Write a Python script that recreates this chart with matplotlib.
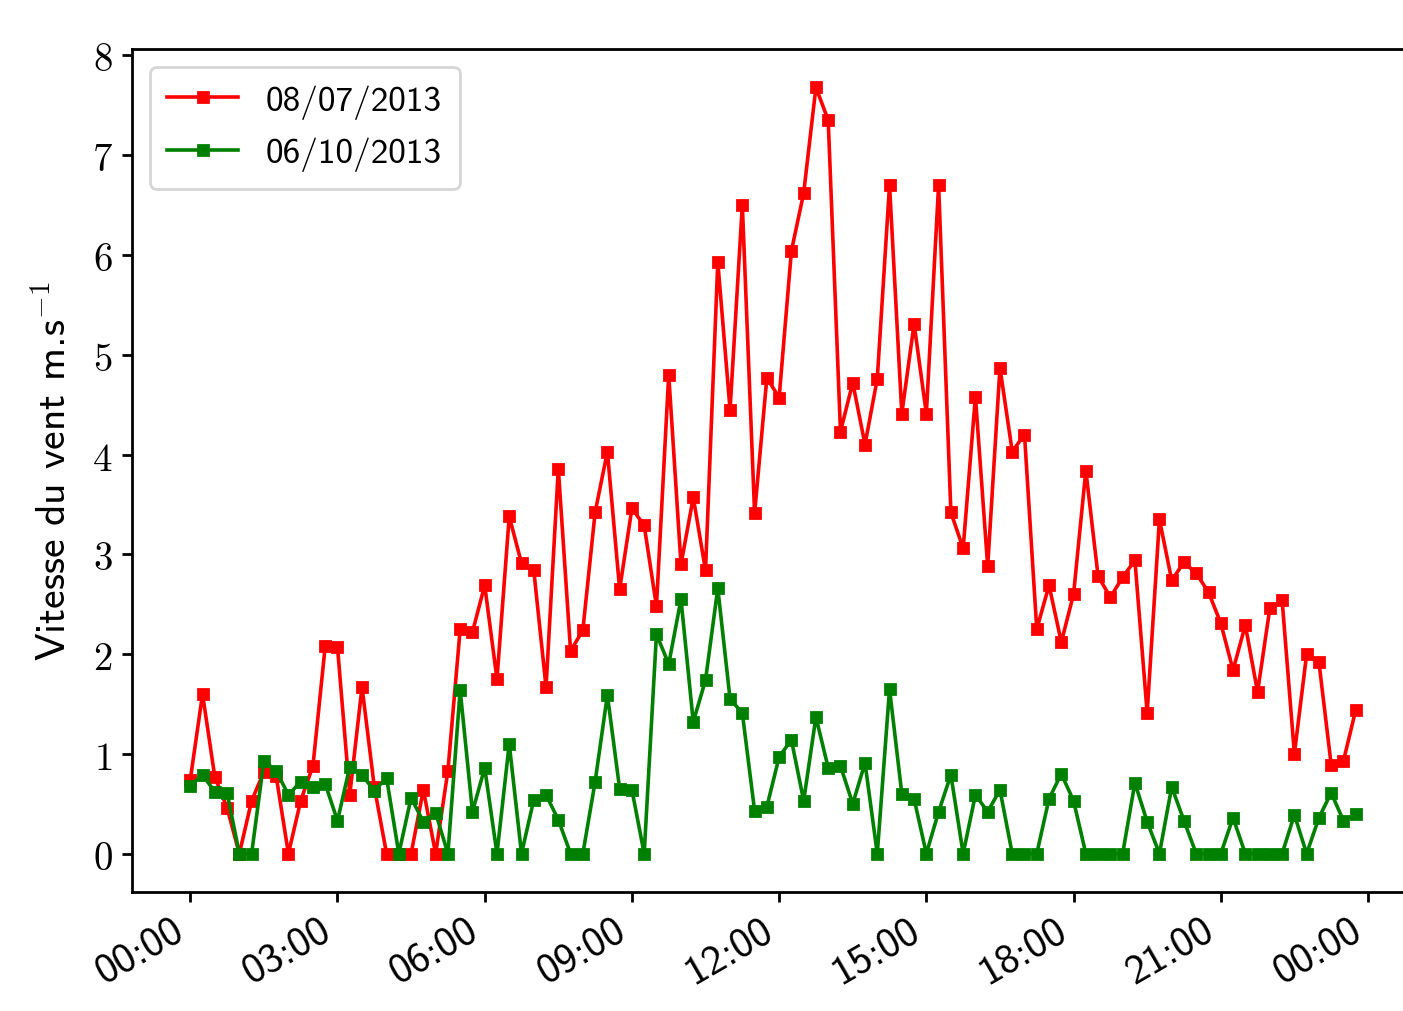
import matplotlib
matplotlib.use("Agg")
import matplotlib.pyplot as plt
import matplotlib.dates as mdates
from matplotlib.ticker import FuncFormatter
import pandas as pd

times = pd.date_range("2013-07-08 00:00", periods=96, freq="15min")

red_label = "08/07/2013"
green_label = "06/10/2013"

red_values = [
    0.74, 1.60, 0.77, 0.46, 0.00, 0.53, 0.82, 0.78, 0.00, 0.53, 0.88, 2.08,
    2.07, 0.59, 1.67, 0.67, 0.00, 0.00, 0.00, 0.64, 0.00, 0.83, 2.25, 2.22,
    2.69, 1.75, 3.38, 2.91, 2.84, 1.67, 3.86, 2.03, 2.24, 3.42, 4.03, 2.65,
    3.46, 3.29, 2.48, 4.80, 2.90, 3.57, 2.84, 5.93, 4.45, 6.50, 3.41, 4.77,
    4.57, 6.04, 6.62, 7.68, 7.35, 4.23, 4.72, 4.10, 4.76, 6.70, 4.41, 5.31,
    4.41, 6.70, 3.42, 3.06, 4.58, 2.88, 4.87, 4.03, 4.20, 2.25, 2.69, 2.12,
    2.60, 3.84, 2.78, 2.57, 2.77, 2.94, 1.41, 3.35, 2.74, 2.92, 2.81, 2.62,
    2.31, 1.84, 2.29, 1.62, 2.46, 2.54, 1.00, 2.00, 1.92, 0.89, 0.93, 1.44,
]

green_values = [
    0.68, 0.79, 0.62, 0.61, 0.00, 0.00, 0.93, 0.83, 0.59, 0.72, 0.67, 0.70,
    0.33, 0.87, 0.79, 0.63, 0.76, 0.00, 0.56, 0.32, 0.41, 0.00, 1.64, 0.42,
    0.86, 0.00, 1.10, 0.00, 0.54, 0.59, 0.34, 0.00, 0.00, 0.72, 1.59, 0.65,
    0.64, 0.00, 2.20, 1.90, 2.55, 1.32, 1.74, 2.66, 1.55, 1.41, 0.43, 0.47,
    0.97, 1.14, 0.53, 1.37, 0.86, 0.88, 0.50, 0.91, 0.00, 1.65, 0.60, 0.55,
    0.00, 0.42, 0.79, 0.00, 0.59, 0.42, 0.64, 0.00, 0.00, 0.00, 0.55, 0.80,
    0.53, 0.00, 0.00, 0.00, 0.00, 0.71, 0.32, 0.00, 0.67, 0.33, 0.00, 0.00,
    0.00, 0.36, 0.00, 0.00, 0.00, 0.00, 0.39, 0.00, 0.36, 0.61, 0.33, 0.40,
]

y_ticks = [0, 1, 2, 3, 4, 5, 6, 7, 8]
y_label = r"Vitesse du vent m.s$^{-1}$"

plt.rcParams["mathtext.fontset"] = "cm"
plt.rcParams["axes.unicode_minus"] = False
plt.rcParams["axes.linewidth"] = 1.0
plt.rcParams["xtick.major.width"] = 1.0
plt.rcParams["ytick.major.width"] = 1.0

fig = plt.figure(figsize=(1403 / 200, 1012 / 200), dpi=200)
ax = fig.add_axes([132 / 1403, 1 - 893 / 1012, 1282 / 1403, (893 - 50) / 1012])

ax.plot(times, red_values, color="red", marker="s", markersize=3.4, lw=1.3, label=red_label)
ax.plot(times, green_values, color="green", marker="s", markersize=3.4, lw=1.3, label=green_label)

ax.xaxis.set_major_locator(mdates.HourLocator(byhour=range(0, 24, 3)))
ax.xaxis.set_major_formatter(mdates.DateFormatter("%H:%M"))
ax.set_yticks(y_ticks)
ax.yaxis.set_major_formatter(FuncFormatter(lambda v, p: f"${v:g}$"))

for lab in ax.get_xticklabels():
    lab.set_rotation(30)
    lab.set_ha("right")
    lab.set_fontfamily("cmss10")
    lab.set_fontsize(15)
ax.tick_params(axis="y", labelsize=14)

ax.set_ylabel(y_label, fontfamily="cmss10", fontsize=15, labelpad=6)

leg = ax.legend(loc="upper left", prop={"family": "cmss10", "size": 12.7},
                borderpad=0.5)

fig.savefig("out.png", dpi=200)
